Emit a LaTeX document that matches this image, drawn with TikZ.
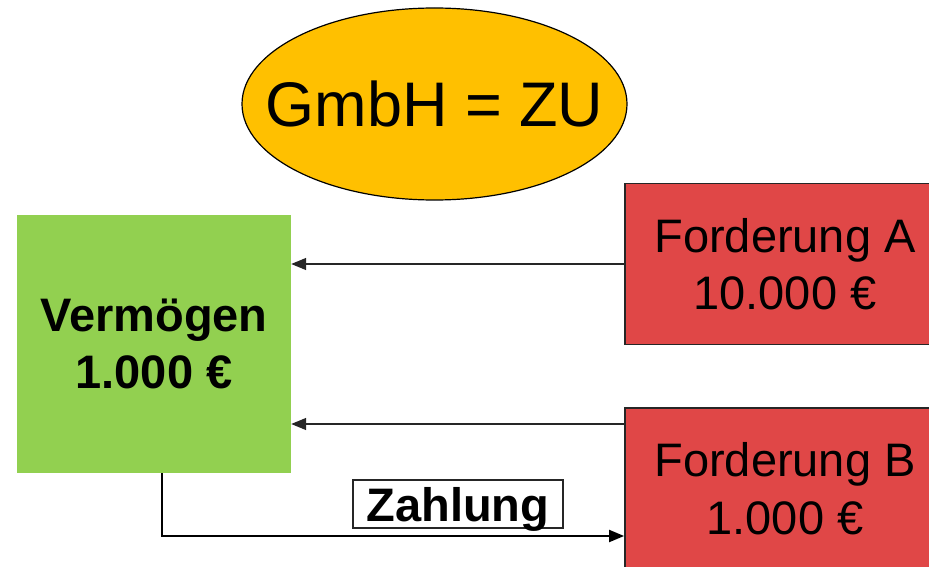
\documentclass[tikz,border=0pt]{standalone}
\usepackage{fontspec}
\setmainfont{Liberation Sans}
\usetikzlibrary{arrows.meta,shapes.geometric}

\definecolor{goldfill}{RGB}{255,192,0}
\definecolor{assetgreen}{RGB}{146,208,80}
\definecolor{claimred}{RGB}{224,71,71}

\tikzset{
  bigtext/.style={font=\fontsize{47}{57.5}\selectfont},
  statusoval/.style={ellipse, draw=black, line width=1.2pt, fill=goldfill,
    minimum width=385pt, minimum height=192pt, inner sep=0pt},
  claimbox/.style={draw=black!85, line width=1.8pt, fill=claimred, rectangle,
    minimum width=320pt, minimum height=161pt, align=center, bigtext, inner sep=0pt},
  assetbox/.style={fill=assetgreen, rectangle, minimum width=274pt,
    minimum height=258pt, align=center, bigtext, inner sep=0pt},
  flow/.style={line width=1.4pt, draw=black!85,
    -{Triangle[length=15pt,width=12pt]}},
  payflow/.style={line width=2pt, draw=black,
    -{Triangle[length=15pt,width=12pt]}},
  paylabel/.style={draw=black!85, line width=1.6pt, fill=white, rectangle,
    minimum width=210pt, minimum height=48pt, inner sep=0pt,
    font=\fontsize{47}{56}\selectfont\bfseries, text depth=0pt},
}

\begin{document}
\begin{tikzpicture}[x=1pt,y=-1pt]
  \useasboundingbox (0,0) rectangle (929,567);
  \clip (0,0) rectangle (929,567);

  % company status: the oval keeps its own size, the text sits on top
  \node[statusoval] (gmbh) at (434.5,104) {};
  \node[font=\fontsize{63}{70}\selectfont, inner sep=0pt] (gmbhtext)
       at (gmbh.center) {GmbH = ZU};

  % assets of the company
  \node[assetbox] (asset) at (154,344) {\bfseries Vermögen\\\bfseries 1.000 €};

  % creditors' claims
  \node[claimbox] (claimA) at (785,264) {Forderung A\\10.000 €};
  \node[claimbox] (claimB) at (785,488.5) {Forderung B\\1.000 €};

  % claims pointing at the assets
  \draw[flow] (claimA.west) -- (claimA.west -| asset.east);
  \draw[flow] (claimB.west |- 0,424) coordinate (bsrc) -- (asset.east |- bsrc);

  % payment from assets to creditor B
  \coordinate (payturn) at (162,536);
  \draw[payflow] (asset.south -| payturn) -- (payturn) -- (claimB.west |- payturn);

  \node[paylabel] (pay) at (458,504) {Zahlung};
\end{tikzpicture}
\end{document}
